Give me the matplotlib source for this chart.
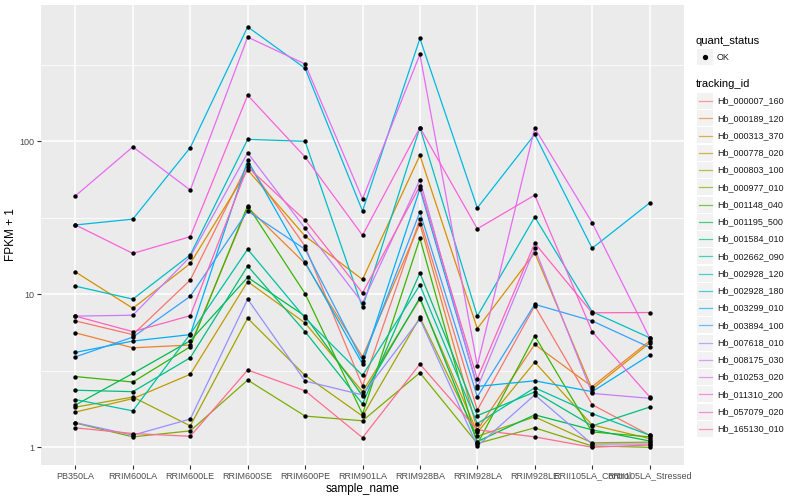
import matplotlib
matplotlib.use("Agg")
import matplotlib.pyplot as plt
from matplotlib.lines import Line2D
from matplotlib.patches import Rectangle
import numpy as np

plt.rcParams['font.family'] = ['Liberation Sans', 'DejaVu Sans']

samples = ["PB350LA", "RRIM600LA", "RRIM600LE", "RRIM600SE", "RRIM600PE", "RRIM901LA",
           "RRIM928BA", "RRIM928LA", "RRIM928LE", "RRII105LA_Control", "RRII105LA_Stressed"]

tracking_ids = ["Hb_000007_160", "Hb_000189_120", "Hb_000313_370", "Hb_000778_020",
                "Hb_000803_100", "Hb_000977_010", "Hb_001148_040", "Hb_001195_500",
                "Hb_001584_010", "Hb_002662_090", "Hb_002928_120", "Hb_002928_180",
                "Hb_003299_010", "Hb_003894_100", "Hb_007618_010", "Hb_008175_030",
                "Hb_010253_020", "Hb_011310_200", "Hb_057079_020", "Hb_165130_010"]

# ggplot hue palette, 20 levels
colors = ["#F8766D", "#EA8331", "#D89000", "#C09B00", "#A3A500", "#7CAE00", "#39B600",
          "#00BB4E", "#00BF7D", "#00C1A3", "#00BFC4", "#00BAE0", "#00B0F6", "#35A2FF",
          "#9590FF", "#C77CFF", "#E76BF3", "#FA62DB", "#FF62BC", "#FF6C91"]

# FPKM + 1 per sample
hb_000007_160 = [6.7, 5.45, 12.4, 71, 20.6, 2.52, 31, 1.75, 8.4, 1.9, 1.2]
hb_000189_120 = [5.6, 4.47, 4.66, 37, 15.9, 3.9, 29, 1.3, 4.7, 2.49, 4.95]
hb_000313_370 = [14.0, 8.1, 15.9, 65, 24, 12.5, 81, 5.97, 18.7, 2.4, 4.8]
hb_000778_020 = [1.70, 2.08, 3.0, 12.1, 6.5, 2.31, 9.3, 1.25, 3.6, 1.4, 1.14]
hb_000803_100 = [1.83, 2.13, 1.38, 6.97, 2.95, 1.6, 7.07, 1.18, 1.58, 1.07, 1.08]
hb_000977_010 = [1.44, 1.17, 1.28, 2.75, 1.6, 1.49, 3.07, 1.06, 1.34, 1.02, 1.0]
hb_001148_040 = [2.9, 2.67, 4.54, 38, 10.1, 1.65, 23.2, 1.05, 5.35, 1.26, 1.17]
hb_001195_500 = [1.89, 3.04, 4.97, 12.9, 7.2, 2.17, 9.5, 1.09, 1.63, 1.3, 1.10]
hb_001584_010 = [2.36, 2.31, 3.85, 15.3, 5.7, 1.92, 13.8, 1.61, 2.3, 1.38, 1.83]
hb_002662_090 = [2.05, 1.73, 5.5, 19.7, 7.0, 2.95, 11.5, 1.43, 2.45, 1.66, 1.2]
hb_002928_120 = [11.3, 9.3, 18.1, 103, 100, 8.2, 123, 7.2, 32, 7.7, 5.2]
hb_002928_180 = [28.4, 31, 91, 560, 300, 35, 470, 36.7, 111, 20, 39.5]
hb_003299_010 = [4.17, 4.95, 5.45, 75, 16.2, 3.5, 49, 2.5, 2.72, 2.31, 4.0]
hb_003894_100 = [3.9, 5.25, 9.7, 35, 19.7, 3.68, 34.5, 2.14, 8.6, 6.7, 4.5]
hb_007618_010 = [1.45, 1.2, 1.53, 9.3, 2.71, 2.2, 6.9, 1.02, 2.2, 1.05, 1.05]
hb_008175_030 = [7.2, 7.3, 17.6, 84, 27, 8.8, 56, 2.45, 20, 2.25, 2.09]
hb_010253_020 = [44, 92, 48, 480, 320, 42, 370, 3.42, 122, 29.4, 5.2]
hb_011310_200 = [28.4, 18.5, 23.8, 200, 79, 24.3, 123, 26.8, 44.5, 5.7, 2.14]
hb_057079_020 = [7.2, 5.7, 7.25, 68, 30.4, 10.2, 51, 2.8, 21.6, 7.57, 7.6]
hb_165130_010 = [1.34, 1.23, 1.18, 3.2, 2.34, 1.155, 3.5, 1.3, 1.17, 1.0, 1.035]

series = [hb_000007_160, hb_000189_120, hb_000313_370, hb_000778_020, hb_000803_100,
          hb_000977_010, hb_001148_040, hb_001195_500, hb_001584_010, hb_002662_090,
          hb_002928_120, hb_002928_180, hb_003299_010, hb_003894_100, hb_007618_010,
          hb_008175_030, hb_010253_020, hb_011310_200, hb_057079_020, hb_165130_010]

W, H = 800, 500
fig = plt.figure(figsize=(8, 5), dpi=100)
ax = fig.add_axes([41 / W, 35 / H, (684 - 41) / W, 460 / H])
ax.set_facecolor("#EBEBEB")

x = np.arange(len(samples))
for vals, col in zip(series, colors):
    ax.plot(x, vals, color=col, lw=0.9, zorder=2)
for vals in series:
    ax.scatter(x, vals, s=10, color="black", zorder=3, linewidths=0)

ax.set_yscale("log")
ax.set_ylim(0.766, 778)
ax.set_xlim(-0.6, len(samples) - 0.4)
ax.set_yticks([1, 10, 100])
ax.set_yticklabels(["1", "10", "100"])
ax.set_yticks([10 ** 0.5, 10 ** 1.5, 10 ** 2.5], minor=True)
ax.set_xticks(x)
ax.set_xticklabels(samples)

ax.grid(which="major", color="white", lw=1.1)
ax.grid(which="minor", axis="y", color="white", lw=0.55)
ax.set_axisbelow(True)
for s in ax.spines.values():
    s.set_visible(False)
ax.tick_params(which="major", length=2.75, width=0.8, color="#333333",
               labelcolor="#4D4D4D", labelsize=6.5, pad=2)
ax.tick_params(which="minor", length=0)

ax.set_xlabel("sample_name", fontsize=8.5, labelpad=2)
ax.set_ylabel("FPKM + 1", fontsize=8.5, labelpad=2)

# legend, ggplot style
def fx(px):
    return px / W

def fy(py):
    return 1 - py / H

fig.text(fx(696), fy(41), "quant_status", fontsize=8, va="center", ha="left")
fig.patches.append(Rectangle((fx(697), fy(65)), fx(16), 16 / H, transform=fig.transFigure,
                             facecolor="#F2F2F2", edgecolor="none"))
fig.lines.append(Line2D([fx(705)], [fy(57)], marker="o", markersize=2.8, color="black",
                        linestyle="none", transform=fig.transFigure))
fig.text(fx(717), fy(57), "OK", fontsize=6.5, va="center", ha="left", color="#1A1A1A")

fig.text(fx(696), fy(84), "tracking_id", fontsize=8, va="center", ha="left")
step = 17.25
for i, (name, col) in enumerate(zip(tracking_ids, colors)):
    yc = 101 + i * step
    fig.patches.append(Rectangle((fx(697), fy(yc + 8)), fx(16), 16 / H,
                                 transform=fig.transFigure, facecolor="#F2F2F2",
                                 edgecolor="none"))
    fig.lines.append(Line2D([fx(698.5), fx(711.5)], [fy(yc), fy(yc)], color=col, lw=0.9,
                            alpha=0.7, transform=fig.transFigure))
    fig.text(fx(717), fy(yc), name, fontsize=6.5, va="center", ha="left", color="#1A1A1A")

fig.savefig("out.png", dpi=100)
